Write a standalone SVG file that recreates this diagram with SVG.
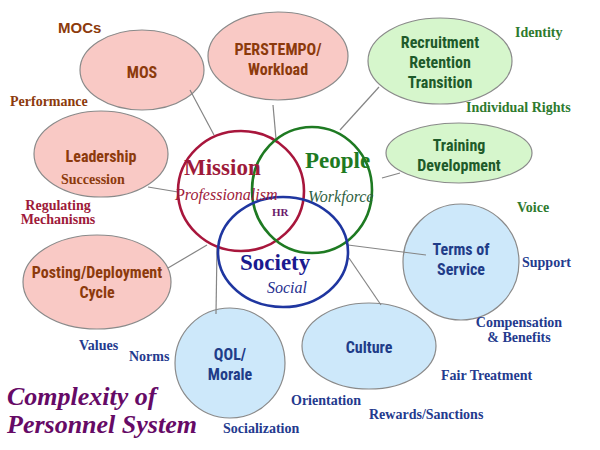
<svg xmlns="http://www.w3.org/2000/svg" width="600" height="450" viewBox="0 0 600 450">
<style>
.pink{fill:#F9C9C5;stroke:#8a8a8a;stroke-width:1.2}
.green{fill:#D6F6CC;stroke:#8a8a8a;stroke-width:1.2}
.blue{fill:#CDE8FA;stroke:#8a8a8a;stroke-width:1.2}
.conn line{stroke:#858585;stroke-width:1.2}
.nl{font-family:"Liberation Sans Narrow","Roboto Condensed","Liberation Sans",Arial,sans-serif;font-weight:bold;font-size:16px;text-anchor:middle}
.br{fill:#8C3A0C}
.gr{fill:#1E5A2A}
.nv{fill:#1F3C88}
.sb{font-family:"Liberation Serif","Times New Roman",serif;font-weight:bold;font-size:14px}
.sg{fill:#2E7A2E}
.sn{fill:#243A8E}
.venn{fill:none;stroke-width:2.6}
</style>
<rect width="600" height="450" fill="#ffffff"/>

<g id="mos"><ellipse class="pink" cx="142" cy="70" rx="62" ry="40"/><text class="nl br" x="142" y="78">MOS</text></g>
<g id="perstempo"><ellipse class="pink" cx="278" cy="56" rx="70" ry="44"/><text class="nl br" x="278" y="55">PERSTEMPO/</text><text class="nl br" x="278" y="75">Workload</text></g>
<g id="recruitment"><ellipse class="green" cx="440" cy="61" rx="72" ry="43"/><text class="nl gr" x="440" y="48">Recruitment</text><text class="nl gr" x="440" y="68">Retention</text><text class="nl gr" x="440" y="88">Transition</text></g>
<g id="training"><ellipse class="green" cx="459" cy="153" rx="73" ry="30"/><text class="nl gr" x="459" y="151">Training</text><text class="nl gr" x="459" y="171">Development</text></g>
<g id="leadership"><ellipse class="pink" cx="101" cy="154" rx="67" ry="43"/><text class="nl br" x="101" y="162">Leadership</text></g>
<g id="posting"><ellipse class="pink" cx="97" cy="282" rx="74" ry="47"/><text class="nl br" x="97" y="278">Posting/Deployment</text><text class="nl br" x="97" y="298">Cycle</text></g>
<g id="terms"><circle class="blue" cx="461" cy="262" r="58"/><text class="nl nv" x="461" y="255">Terms of</text><text class="nl nv" x="461" y="275">Service</text></g>
<g id="qol"><circle class="blue" cx="230" cy="363" r="55"/><text class="nl nv" x="230" y="360">QOL/</text><text class="nl nv" x="230" y="380">Morale</text></g>
<g id="culture"><ellipse class="blue" cx="369" cy="346" rx="67" ry="43"/><text class="nl nv" x="369" y="353">Culture</text></g>

<g id="connectors" class="conn">
<line x1="190" y1="90" x2="214" y2="135"/>
<line x1="273" y1="105" x2="276" y2="139"/>
<line x1="379" y1="87" x2="340" y2="130"/>
<line x1="148" y1="187" x2="178" y2="192"/>
<line x1="400" y1="173" x2="382" y2="178"/>
<line x1="168" y1="268" x2="207" y2="245"/>
<line x1="217" y1="248" x2="216" y2="314"/>
<line x1="348" y1="245" x2="426" y2="255"/>
<line x1="349" y1="258" x2="381" y2="305"/>
</g>

<g id="venn">
<ellipse class="venn" cx="241" cy="191" rx="63" ry="60" stroke="#A8163C"/>
<ellipse class="venn" cx="312" cy="190" rx="60" ry="63" stroke="#1E7A22"/>
<ellipse class="venn" cx="283" cy="252" rx="65" ry="55" stroke="#1F36A0"/>
</g>

<g id="venn-labels" font-family="'Liberation Serif','Times New Roman',serif">
<text x="184" y="175" font-size="23" font-weight="bold" fill="#9E1A3A">Mission</text>
<text x="175" y="200" font-size="16" font-style="italic" fill="#9E1A3A">Professionalism</text>
<text x="305" y="168" font-size="23" font-weight="bold" fill="#1E7A22">People</text>
<text x="308" y="202" font-size="16" font-style="italic" fill="#2F5F3F">Workforce</text>
<text x="272" y="216" font-size="11" font-weight="bold" fill="#6B1A6B">HR</text>
<text x="240" y="270" font-size="23" font-weight="bold" fill="#1A1A8F">Society</text>
<text x="267" y="293" font-size="16" font-style="italic" fill="#1F2F8F">Social</text>
</g>

<g id="annotations" class="sb">
<text x="58" y="33" font-family="'Liberation Sans',Arial,sans-serif" font-size="15" fill="#8C3A0C">MOCs</text>
<text x="10" y="106" fill="#8C3A0C">Performance</text>
<text x="61" y="184" fill="#8C3A0C">Succession</text>
<text x="58" y="210" text-anchor="middle" fill="#9E1A3A">Regulating</text>
<text x="58" y="224" text-anchor="middle" fill="#9E1A3A">Mechanisms</text>
<text class="sg" x="515" y="37">Identity</text>
<text class="sg" x="466" y="112">Individual Rights</text>
<text class="sg" x="517" y="212">Voice</text>
<text class="sn" x="522" y="267">Support</text>
<text class="sn" x="519" y="327" text-anchor="middle">Compensation</text>
<text class="sn" x="519" y="342" text-anchor="middle">&amp; Benefits</text>
<text class="sn" x="441" y="380">Fair Treatment</text>
<text class="sn" x="291" y="405">Orientation</text>
<text class="sn" x="369" y="419">Rewards/Sanctions</text>
<text class="sn" x="79" y="350">Values</text>
<text class="sn" x="129" y="361">Norms</text>
<text class="sn" x="223" y="433">Socialization</text>
</g>

<g id="title" font-family="'Liberation Serif','Times New Roman',serif" font-size="26" font-weight="bold" font-style="italic" fill="#660A66">
<text x="7" y="405">Complexity of</text>
<text x="7" y="433">Personnel System</text>
</g>
</svg>
